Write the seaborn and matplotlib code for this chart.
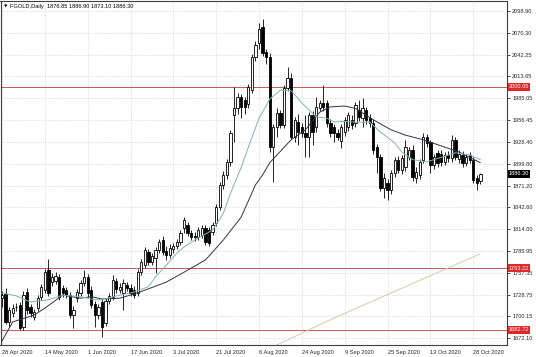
import numpy as np
import pandas as pd
import matplotlib
matplotlib.use("Agg")
import matplotlib.pyplot as plt
import seaborn as sns

# ---------------- data ----------------
opens = [1724, 1730, 1693, 1705, 1712, 1715, 1686, 1732, 1712, 1700,
         1711, 1726, 1735, 1761, 1745, 1747, 1752, 1737, 1735, 1728,
         1702, 1724, 1731, 1744, 1752, 1735, 1716, 1702, 1719, 1692,
         1720, 1726, 1746, 1735, 1731, 1741, 1737, 1735, 1731, 1758,
         1767, 1784, 1771, 1776, 1787, 1800, 1786, 1780, 1788, 1792,
         1797, 1816, 1820, 1809, 1805, 1804, 1807, 1816, 1813, 1810,
         1822, 1843, 1872, 1885, 1902, 1963, 1972, 1987, 1983, 1978,
         1996, 2039, 2057, 2078, 2045, 2039, 1921, 1948, 1966, 1950,
         1999, 2012, 1935, 1954, 1948, 1940, 1935, 1963, 1948, 1973,
         1979, 1979, 1953, 1948, 1940, 1929, 1941, 1948, 1957, 1953,
         1970, 1959, 1970, 1959, 1953, 1921, 1908, 1868, 1874, 1865,
         1888, 1905, 1891, 1895, 1909, 1918, 1881, 1885, 1904, 1934,
         1928, 1898, 1914, 1913, 1902, 1911, 1907, 1930, 1906, 1911,
         1901, 1911, 1905, 1881, 1876.85]
highs = [1733, 1738, 1712, 1716, 1718, 1719, 1733, 1737, 1716, 1710,
         1728, 1743, 1762, 1775, 1757, 1758, 1756, 1741, 1739, 1732,
         1714, 1736, 1748, 1761, 1756, 1740, 1720, 1717, 1723, 1724,
         1731, 1754, 1750, 1744, 1749, 1745, 1742, 1740, 1762, 1775,
         1791, 1788, 1783, 1791, 1801, 1805, 1792, 1795, 1796, 1801,
         1813, 1830, 1824, 1813, 1810, 1817, 1820, 1820, 1817, 1824,
         1847, 1876, 1890, 1906, 1944, 2000, 1992, 1991, 1987, 2004,
         2043, 2060, 2083, 2089, 2050, 2044, 1952, 1972, 1970, 2002,
         2026, 2018, 1961, 1965, 1953, 1963, 1967, 1968, 1987, 1983,
         2002, 1983, 1958, 1952, 1945, 1952, 1961, 1967, 1963, 1980,
         1983, 1985, 1974, 1964, 1958, 1926, 1912, 1888, 1880, 1892,
         1908, 1910, 1911, 1930, 1922, 1924, 1895, 1906, 1940, 1939,
         1931, 1913, 1918, 1917, 1915, 1916, 1937, 1935, 1918, 1916,
         1913, 1915, 1909, 1885, 1886.90]
lows = [1712, 1690, 1687, 1700, 1707, 1682, 1683, 1704, 1700, 1696,
        1707, 1722, 1731, 1727, 1740, 1742, 1722, 1726, 1724, 1698,
        1685, 1719, 1727, 1740, 1726, 1711, 1687, 1697, 1673, 1688,
        1716, 1722, 1731, 1731, 1709, 1733, 1727, 1724, 1727, 1754,
        1763, 1767, 1767, 1757, 1783, 1780, 1774, 1776, 1783, 1788,
        1793, 1809, 1805, 1800, 1799, 1800, 1803, 1793, 1792, 1806,
        1818, 1839, 1866, 1880, 1897, 1928, 1965, 1960, 1965, 1972,
        1992, 2034, 2050, 2040, 2030, 1915, 1876, 1934, 1946, 1946,
        1994, 1932, 1928, 1924, 1935, 1908, 1908, 1924, 1941, 1968,
        1969, 1948, 1934, 1928, 1930, 1920, 1936, 1943, 1945, 1948,
        1955, 1948, 1952, 1948, 1912, 1888, 1864, 1855, 1852, 1860,
        1882, 1887, 1886, 1890, 1904, 1877, 1875, 1880, 1900, 1922,
        1887, 1893, 1896, 1897, 1898, 1902, 1902, 1904, 1900, 1896,
        1897, 1900, 1875, 1865, 1873.10]
closes = [1728, 1693, 1709, 1711, 1713, 1685, 1728, 1709, 1705, 1706,
          1724, 1739, 1758, 1731, 1752, 1753, 1726, 1731, 1728, 1702,
          1709, 1732, 1744, 1752, 1731, 1715, 1702, 1712, 1686, 1720,
          1727, 1748, 1736, 1739, 1744, 1737, 1731, 1728, 1758, 1771,
          1787, 1771, 1779, 1787, 1797, 1784, 1781, 1790, 1792, 1797,
          1809, 1826, 1809, 1804, 1804, 1813, 1816, 1797, 1796, 1820,
          1843, 1872, 1885, 1902, 1940, 1972, 1987, 1974, 1974, 2000,
          2039, 2055, 2076, 2044, 2039, 1921, 1948, 1966, 1950, 1999,
          2012, 1935, 1957, 1941, 1940, 1935, 1963, 1941, 1974, 1979,
          1974, 1953, 1940, 1940, 1935, 1948, 1957, 1963, 1950, 1976,
          1961, 1972, 1957, 1953, 1918, 1908, 1868, 1881, 1865, 1888,
          1905, 1891, 1907, 1921, 1917, 1882, 1889, 1902, 1934, 1927,
          1898, 1908, 1901, 1902, 1911, 1907, 1930, 1908, 1913, 1901,
          1909, 1904, 1878, 1874, 1886.30]

# moving-average lines (bar index, price)
ma_fast_bar = [0, 4, 8, 13, 17, 22, 26, 28, 32, 37, 41, 43, 46, 49, 51, 54, 59, 62, 64, 67, 70,
               72, 75, 78, 81, 84, 88, 91, 93, 96, 99, 103, 106, 110, 112, 115, 119, 123, 127, 131, 134]
ma_fast_val = [1731, 1727, 1719, 1722, 1728, 1726, 1722, 1722, 1727, 1732, 1739, 1752, 1767, 1783,
               1791, 1800, 1813, 1835, 1861, 1895, 1934, 1959, 1984, 1996, 1995, 1979, 1961, 1959,
               1954, 1955, 1954, 1954, 1941, 1927, 1915, 1905, 1902, 1908, 1914, 1911, 1905]
ma_slow_bar = [-1, 3, 9, 12, 17, 22, 25, 28, 33, 38, 46, 51, 57, 62, 67, 71, 73, 75, 81, 85, 89,
               92, 96, 99, 104, 109, 113, 118, 123, 128, 134]
ma_slow_val = [1660, 1693, 1702, 1711, 1728, 1724, 1726, 1723, 1724, 1731, 1745, 1758, 1774, 1800,
               1830, 1872, 1885, 1901, 1931, 1944, 1967, 1974, 1975, 1972, 1957, 1944, 1937, 1931,
               1923, 1915, 1901]
ma_long_bar = [72, 77, 92, 111, 134]
ma_long_val = [1652, 1663, 1696, 1735, 1782]

date_labels = ["28 Apr 2020", "14 May 2020", "1 Jun 2020", "17 Jun 2020", "3 Jul 2020",
               "21 Jul 2020", "6 Aug 2020", "24 Aug 2020", "9 Sep 2020", "25 Sep 2020",
               "13 Oct 2020", "28 Oct 2020"]
date_label_bars = [0, 12, 24, 36, 48, 60, 72, 84, 96, 108, 120, 132]
price_ticks = [2098.90, 2070.30, 2042.25, 2013.65, 1985.05, 1956.45, 1928.40, 1899.80,
               1871.20, 1842.60, 1814.00, 1785.95, 1757.35, 1728.75, 1700.15, 1672.10]
level_lines = [2000.05, 1763.22, 1682.72]
title_text = "FGOLD,Daily  1876.85 1886.90 1873.10 1886.30"
last_price = 1886.30

# ---------------- drawing ----------------
sns.set_style("white")
plt.rcParams["font.family"] = ["Liberation Sans", "DejaVu Sans"]

df = pd.DataFrame({"open": opens, "high": highs, "low": lows, "close": closes})
df["bar"] = np.arange(len(df))

W, H = 536, 357
fig = plt.figure(figsize=(W / 100, H / 100), dpi=100)
ax = fig.add_axes([0.5 / W, 12 / H, 506.5 / W, 344.5 / H])

FS = 4.1
# grid
ax.set_axisbelow(True)
ax.grid(True, color="#c8c8c8", linestyle=(0, (1, 1.5)), linewidth=0.5)

# candles
up = df["close"] >= df["open"]
ax.vlines(df["bar"], df["low"], df["high"], color="black", linewidth=0.6, zorder=3)
body_bottom = np.minimum(df["open"], df["close"])
body_h = np.maximum(np.abs(df["close"] - df["open"]), 0.9)
ax.bar(df["bar"][up], body_h[up], bottom=body_bottom[up], width=0.64,
       color="white", edgecolor="black", linewidth=0.6, zorder=4)
ax.bar(df["bar"][~up], body_h[~up], bottom=body_bottom[~up], width=0.64,
       color="black", edgecolor="black", linewidth=0.6, zorder=4)

# moving averages
sns.lineplot(x=ma_long_bar, y=ma_long_val, ax=ax, color="#d9c9a6", linewidth=0.7, zorder=5)
sns.lineplot(x=ma_slow_bar, y=ma_slow_val, ax=ax, color="#2c3350", linewidth=0.7, zorder=5)
sns.lineplot(x=ma_fast_bar, y=ma_fast_val, ax=ax, color="#7fb5ad", linewidth=0.7, zorder=5)

# horizontal levels
for v in level_lines:
    ax.axhline(v, color="#c85a56", linewidth=0.7, zorder=2.5)

ax.set_xlim(-0.42, 141.46)
ax.set_ylim(1662.9, 2112.85)

ax.set_xticks(date_label_bars)
ax.set_xticklabels(date_labels, ha="left")
ax.yaxis.tick_right()
ax.set_yticks(price_ticks)
ax.set_yticklabels([f"{v:.2f}" for v in price_ticks])
ax.tick_params(axis="both", labelsize=FS, length=2.5, width=0.5, color="black",
               direction="out", pad=1.2)
ax.tick_params(axis="x", pad=0.8)
ax.set_xlabel("")
ax.set_ylabel("")
for s in ax.spines.values():
    s.set_color("#404040")
    s.set_linewidth(0.8)

# level labels on the price scale
ytr = ax.get_yaxis_transform()
for v in level_lines:
    ax.text(1.0035, v, f"{v:.2f}", transform=ytr, ha="left", va="center", fontsize=FS,
            color="white", zorder=10, clip_on=False,
            bbox=dict(boxstyle="square,pad=0.22", fc="#e0282a", ec="none"))
ax.text(1.0035, last_price, f"{last_price:.2f}", transform=ytr, ha="left", va="center",
        fontsize=FS, color="white", zorder=10, clip_on=False,
        bbox=dict(boxstyle="square,pad=0.22", fc="black", ec="none"))

# title
ax.text(0.006, 0.984, "\u25BC", transform=ax.transAxes, fontsize=3.2, ha="left", va="center",
        color="black", family=["DejaVu Sans"])
ax.text(0.018, 0.984, title_text, transform=ax.transAxes, fontsize=FS, ha="left",
        va="center", color="black")

fig.savefig("out.png", dpi=100)
